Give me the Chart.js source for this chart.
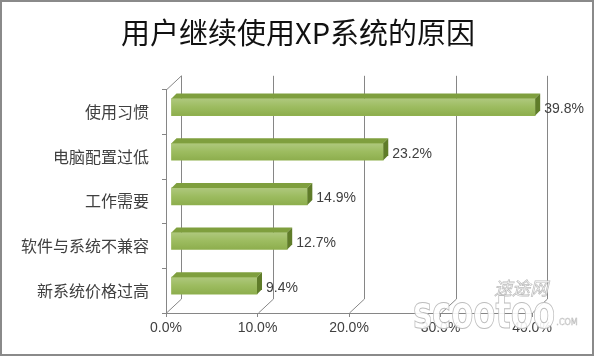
<!DOCTYPE html>
<html><head><meta charset="utf-8">
<script src="https://cdn.jsdelivr.net/npm/chart.js@4/dist/chart.umd.min.js"></script>
<style>html,body{margin:0;padding:0;background:#fff}#wrap{width:596px;height:358px;position:relative}</style>
</head><body><div id="wrap"><canvas id="c"></canvas></div>
<script>
const titleText = '用户继续使用XP系统的原因';
const categories = ['使用习惯', '电脑配置过低', '工作需要', '软件与系统不兼容', '新系统价格过高'];
const values = [39.8, 23.2, 14.9, 12.7, 9.4];
const xTicks = [0, 10, 20, 30, 40];

const WALL_DX = 15, WALL_DY = -14;
const BAR_SHIFT = 5, BAR_DEPTH = 5;
const GRID = '#868686';
const TEXT = '#404040';

const threeD = {
  id: 'threeD',
  beforeDatasetsDraw(chart) {
    const ctx = chart.ctx, a = chart.chartArea, xs = chart.scales.x;
    ctx.save();
    ctx.strokeStyle = GRID; ctx.lineWidth = 1;
    ctx.beginPath();
    xTicks.forEach(v => {
      const px = Math.round(xs.getPixelForValue(v)) + 0.5;
      ctx.moveTo(px + WALL_DX, a.top + WALL_DY);
      ctx.lineTo(px + WALL_DX, a.bottom + WALL_DY);
      ctx.moveTo(px, a.bottom);
      ctx.lineTo(px + WALL_DX, a.bottom + WALL_DY);
    });
    const lx = Math.round(a.left) + 0.5;
    ctx.moveTo(lx, a.top);
    ctx.lineTo(lx + WALL_DX, a.top + WALL_DY);
    ctx.stroke();
    ctx.restore();
    ctx.save();
    ctx.translate(BAR_SHIFT, -BAR_SHIFT);
  },
  afterDatasetsDraw(chart) {
    const ctx = chart.ctx;
    const meta = chart.getDatasetMeta(0);
    meta.data.forEach(el => {
      const p = el.getProps(['x', 'y', 'base', 'height'], true);
      const t = p.y - p.height / 2, b = p.y + p.height / 2;
      const g = ctx.createLinearGradient(0, t, 0, b);
      g.addColorStop(0, 'rgba(255,255,255,0.25)');
      g.addColorStop(0.5, 'rgba(255,255,255,0.08)');
      g.addColorStop(1, 'rgba(60,80,20,0.08)');
      ctx.fillStyle = g;
      ctx.fillRect(p.base, t, p.x - p.base, p.height);
      ctx.beginPath();
      ctx.moveTo(p.base, t); ctx.lineTo(p.x, t);
      ctx.lineTo(p.x + BAR_DEPTH, t - BAR_DEPTH); ctx.lineTo(p.base + BAR_DEPTH, t - BAR_DEPTH);
      ctx.closePath();
      ctx.fillStyle = '#7f9f3e'; ctx.fill();
      ctx.beginPath();
      ctx.moveTo(p.x, t); ctx.lineTo(p.x + BAR_DEPTH, t - BAR_DEPTH);
      ctx.lineTo(p.x + BAR_DEPTH, b - BAR_DEPTH); ctx.lineTo(p.x, b);
      ctx.closePath();
      ctx.fillStyle = '#5f7c29'; ctx.fill();
    });
    ctx.restore();
    ctx.save();
    ctx.font = '14px "Liberation Sans", Arial, sans-serif';
    ctx.fillStyle = TEXT; ctx.textAlign = 'left'; ctx.textBaseline = 'middle';
    meta.data.forEach((el, i) => {
      const p = el.getProps(['x', 'y'], true);
      ctx.fillText(values[i].toFixed(1) + '%', p.x + BAR_SHIFT + 9, p.y - 3);
    });
    ctx.restore();
  },
  afterDraw(chart) {
    const ctx = chart.ctx;
    ctx.save();
    ctx.textAlign = 'center'; ctx.textBaseline = 'middle';
    ctx.fillStyle = 'rgba(255,255,255,0.9)'; ctx.strokeStyle = '#bdbdbd'; ctx.lineWidth = 0.7;
    ctx.font = 'italic 18px "Noto Sans CJK SC"';
    ctx.fillText('速途网', 521, 288); ctx.strokeText('速途网', 521, 288);
    ctx.save();
    ctx.translate(484, 316); ctx.scale(0.7, 1);
    ctx.font = 'bold 46px "DejaVu Sans"';
    ctx.lineWidth = 1;
    ctx.fillText('scootoo', 0, 0); ctx.strokeText('scootoo', 0, 0);
    ctx.restore();
    ctx.font = '8px "DejaVu Sans"'; ctx.lineWidth = 0.5;
    ctx.strokeText('.COM', 567, 323);
    ctx.strokeStyle = '#8a8a8a'; ctx.lineWidth = 2;
    ctx.strokeRect(1, 1, 592, 354);
    ctx.restore();
  }
};

new Chart(document.getElementById('c'), {
  type: 'bar',
  data: {
    labels: categories,
    datasets: [{
      data: values,
      backgroundColor: '#94b652',
      borderWidth: 0,
      barThickness: 17,
      clip: false
    }]
  },
  options: {
    indexAxis: 'y',
    responsive: true,
    maintainAspectRatio: false,
    animation: false,
    layout: { padding: 0 },
    plugins: {
      legend: { display: false },
      tooltip: { enabled: false },
      title: {
        display: true,
        text: titleText,
        color: '#111',
        font: { family: '"Noto Sans CJK SC"', size: 29, weight: 'normal' },
        padding: { top: 16, bottom: 39 }
      }
    },
    scales: {
      x: {
        min: 0, max: 40,
        afterFit: s => { s.height = 45; },
        afterBuildTicks: s => { s.ticks = xTicks.map(v => ({ value: v })); },
        ticks: {
          callback: v => Number(v).toFixed(1) + '%',
          color: TEXT,
          font: { family: '"Liberation Sans", Arial, sans-serif', size: 14 },
          padding: 3
        },
        grid: { drawOnChartArea: false, tickLength: 4, color: GRID },
        border: { color: GRID }
      },
      y: {
        afterFit: s => { s.width = 166; },
        ticks: {
          color: TEXT,
          font: { family: '"Noto Sans CJK SC"', size: 16 },
          padding: 13
        },
        grid: { drawOnChartArea: false, offset: true, tickLength: 4, color: GRID },
        border: { color: GRID }
      },
      gap: {
        type: 'linear',
        position: 'right',
        afterFit: s => { s.width = 64; },
        ticks: { display: false },
        grid: { display: false },
        border: { display: false }
      }
    }
  },
  plugins: [threeD]
});
</script>
</body></html>
